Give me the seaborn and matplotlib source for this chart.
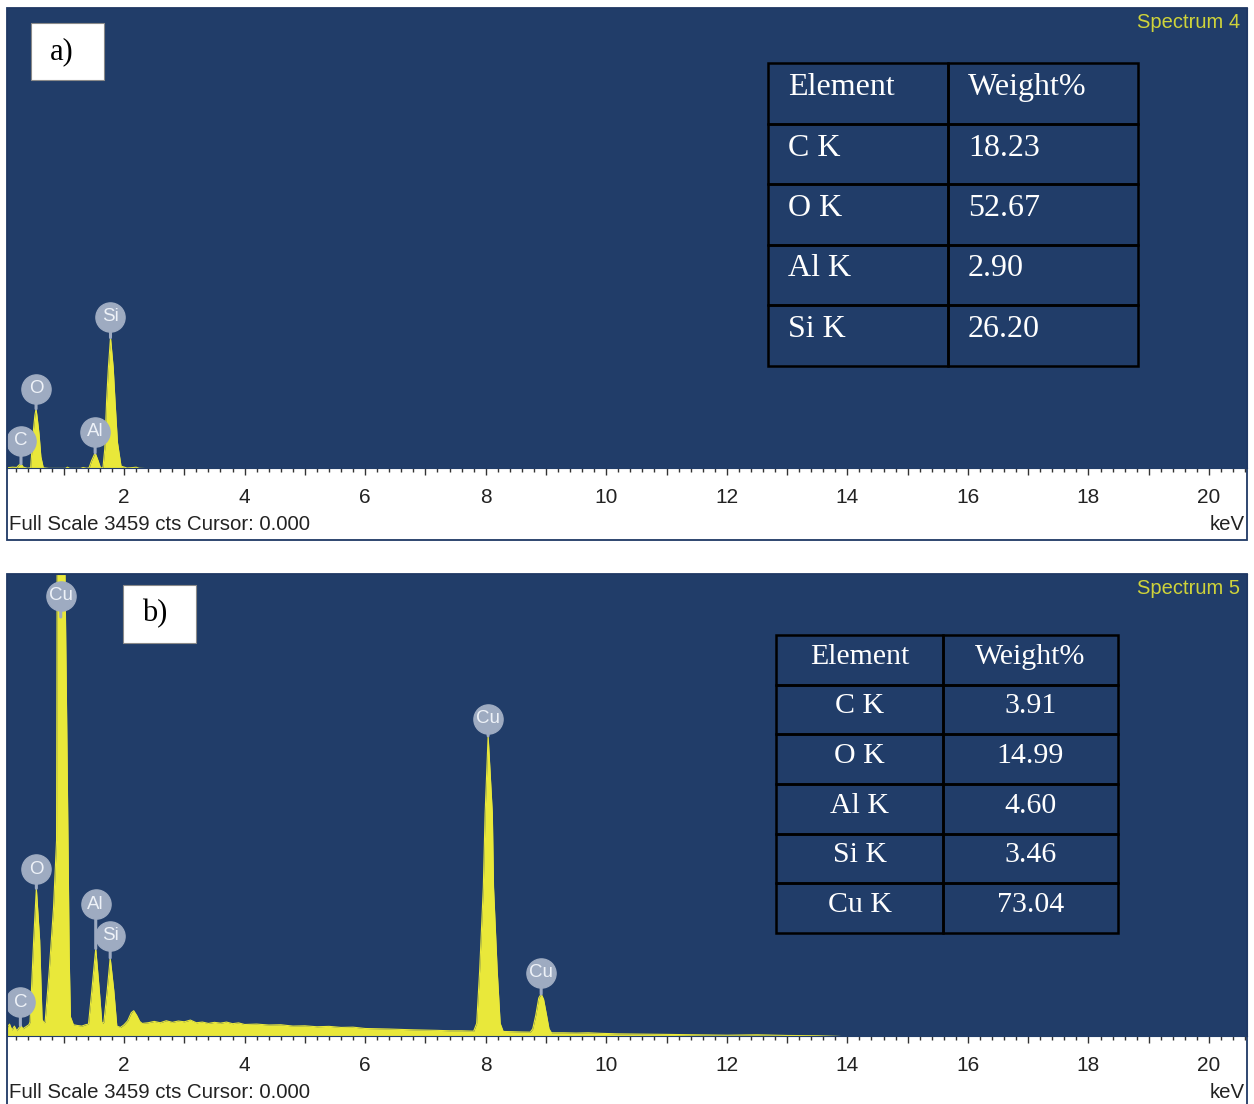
import matplotlib
matplotlib.use("Agg")
import matplotlib.pyplot as plt
import seaborn as sns
from matplotlib.patches import Rectangle
from matplotlib.ticker import MultipleLocator, FuncFormatter
from matplotlib.transforms import offset_copy

# --- Spectrum 4 (panel a): energy (keV) / counts ---
kev_a = [0.06, 0.15, 0.22, 0.25, 0.29, 0.33, 0.40, 0.45, 0.49, 0.52, 0.54, 0.56,
         0.59, 0.62, 0.66, 0.75, 1.03, 1.06, 1.10, 1.28, 1.32, 1.38, 1.42, 1.46,
         1.52, 1.57, 1.61, 1.65, 1.68, 1.71, 1.74, 1.775, 1.82, 1.85, 1.89, 1.95,
         2.05, 2.16, 2.20, 2.25, 2.35, 20.63]
cts_a = [8, 12, 10, 25, 38, 12, 4, 8, 260, 400, 451, 380,
         260, 90, 8, 3, 3, 12, 3, 3, 10, 4, 8, 60,
         120, 60, 6, 10, 150, 510, 760, 985, 760, 510, 200, 20,
         6, 10, 12, 4, 2, 0]

# --- Spectrum 5 (panel b) ---
kev_b = [0.06, 0.10, 0.14, 0.18, 0.22, 0.26, 0.29, 0.32, 0.37, 0.42, 0.44, 0.50,
         0.545, 0.60, 0.64, 0.67, 0.69, 0.755, 0.83, 0.88, 0.89, 0.93, 0.98, 1.02,
         1.05, 1.07, 1.09, 1.11, 1.16, 1.22, 1.30, 1.36, 1.41, 1.465, 1.53, 1.59,
         1.63, 1.645, 1.665, 1.72, 1.77, 1.83, 1.88, 1.94, 2.00, 2.06, 2.12, 2.16,
         2.21, 2.26, 2.30, 2.40, 2.50, 2.60, 2.70, 2.80, 2.90, 3.00, 3.10, 3.20,
         3.30, 3.40, 3.50, 3.60, 3.70, 3.80, 3.90, 4.00, 4.20, 4.40, 4.60, 4.80,
         5.00, 5.20, 5.40, 5.60, 5.80, 6.00, 6.20, 6.40, 6.60, 6.80, 7.00, 7.20,
         7.40, 7.60, 7.80, 7.85, 7.90, 7.96, 7.99, 8.04, 8.11, 8.13, 8.19, 8.24,
         8.29, 8.45, 8.60, 8.74, 8.78, 8.83, 8.88, 8.92, 8.96, 9.01, 9.05, 9.09,
         9.30, 9.50, 9.70, 9.90, 10.2, 10.6, 11.0, 11.5, 12.0, 12.5, 13.0, 13.5,
         13.8, 14.0, 20.63]
cts_b = [70, 95, 50, 80, 45, 70, 85, 60, 75, 90, 110, 720,
         1110, 720, 130, 105, 110, 470, 965, 1470, 3600, 5600, 5800, 3459,
         2300, 1470, 600, 150, 90, 85, 80, 90, 95, 345, 660, 345,
         110, 100, 110, 345, 590, 345, 80, 70, 90, 120, 180, 195,
         160, 115, 100, 105, 115, 105, 120, 108, 118, 112, 125, 105,
         110, 100, 108, 102, 110, 98, 104, 92, 95, 88, 90, 80,
         82, 75, 78, 70, 72, 62, 60, 58, 55, 52, 50, 48,
         45, 45, 42, 100, 500, 1116, 1670, 2250, 1670, 1116, 500, 100,
         40, 38, 36, 35, 60, 160, 290, 320, 280, 160, 60, 30,
         30, 28, 30, 26, 22, 20, 18, 15, 12, 15, 10, 8,
         4, 0, 0]

# element markers (energy, counts at peak top)
labels_a = ["C", "O", "Al", "Si"]
lab_kev_a = [0.29, 0.54, 1.52, 1.775]
lab_cts_a = [38, 451, 120, 985]
lab_off_a = [23, 20, 21, 21]

labels_b = ["C", "O", "Cu", "Al", "Si", "Cu", "Cu"]
lab_kev_b = [0.28, 0.545, 0.95, 1.53, 1.77, 8.04, 8.92]
lab_cts_b = [85, 1110, 5800, 660, 590, 2250, 320]
lab_off_b = [23, 19, -22, 44, 22, 17, 21]

# quantification tables
elements_a = ["C K", "O K", "Al K", "Si K"]
weights_a = [18.23, 52.67, 2.90, 26.20]
elements_b = ["C K", "O K", "Al K", "Si K", "Cu K"]
weights_b = [3.91, 14.99, 4.60, 3.46, 73.04]

W, H = 1254, 1104
BLUE = "#213d69"
YELLOW = "#e9e83a"
BUBBLE = "#9eabc1"
FRAME = "#1f3864"
FULL_SCALE = 3459
KEV_MIN, KEV_MAX = 0.058, 20.63

sns.set_style("white")
plt.rcParams["font.family"] = ["Liberation Sans", "DejaVu Sans"]

fig = plt.figure(figsize=(W / 100, H / 100), dpi=100, facecolor="white")


def fx(x):
    return x / W


def fy(y):
    return 1 - y / H


def draw_panel(top, bottom, strip_bottom, kev, cts, labels, lab_kev, lab_cts,
               lab_off, spectrum):
    ax = fig.add_axes([fx(7), fy(bottom), fx(1247) - fx(7), (bottom - top) / H])
    ax.set_facecolor(BLUE)
    ax.fill_between(kev, cts, 0, color=YELLOW, lw=0)
    sns.lineplot(x=kev, y=cts, ax=ax, color=YELLOW, lw=0.8, estimator=None, sort=False)
    ax.set_xlim(KEV_MIN, KEV_MAX)
    # start a hair above zero so the empty baseline stays blue
    ax.set_ylim(6, FULL_SCALE)
    ax.set_yticks([])
    ax.set_xlabel("")
    ax.set_ylabel("")
    for s in ax.spines.values():
        s.set_color(BLUE)
    ax.xaxis.set_major_locator(MultipleLocator(1))
    ax.xaxis.set_minor_locator(MultipleLocator(0.2))
    ax.xaxis.set_major_formatter(FuncFormatter(
        lambda v, p: f"{int(round(v))}" if round(v) % 2 == 0 and v > 0.5 else ""))
    ax.tick_params(axis="x", which="major", direction="out", length=4.8, width=1,
                   color="#333333", pad=9.5, labelsize=15, labelcolor="#222222",
                   bottom=True)
    ax.tick_params(axis="x", which="minor", direction="out", length=3, width=1,
                   color="#333333", bottom=True)

    # element markers
    for lab, k, c, off in zip(labels, lab_kev, lab_cts, lab_off):
        c = min(c, FULL_SCALE)
        if off > 0:
            s0, s1 = 0, off
        else:
            s0, s1 = off, off - 21
        ax.annotate("", xy=(k, c),
                    xycoords=offset_copy(ax.transData, fig=fig, y=s0, units="dots"),
                    xytext=(0, s1 - s0), textcoords="offset pixels",
                    arrowprops=dict(arrowstyle="-", color=BUBBLE, lw=2.2,
                                    shrinkA=0, shrinkB=0), zorder=4)
        tr = offset_copy(ax.transData, fig=fig, y=off, units="dots")
        ax.plot([k], [c], marker="o", ms=21, color=BUBBLE, mec=BUBBLE,
                transform=tr, zorder=5)
        ax.text(k, c, lab, transform=tr, ha="center", va="center", fontsize=13.5,
                color="#eef2f8", zorder=6, clip_on=False)

    # frame round plot + white strip
    fig.patches.append(Rectangle((fx(7), fy(strip_bottom)), fx(1247) - fx(7),
                                 (strip_bottom - top) / H, transform=fig.transFigure,
                                 fill=False, edgecolor=FRAME, lw=1.3, zorder=10))
    fig.text(fx(9), fy(bottom + 56), "Full Scale 3459 cts Cursor: 0.000",
             ha="left", va="center", fontsize=14.7, color="#222222")
    fig.text(fx(1245), fy(bottom + 56), "keV", ha="right", va="center",
             fontsize=14.7, color="#222222")
    fig.text(fx(1240), fy(top + 14), spectrum, ha="right", va="center",
             fontsize=14.5, color="#cfd33a")
    return ax


def draw_table(x_cols, y_top, row_h, elements, weights, size, centred, base_off, pad):
    n = len(elements) + 1
    rows = [["Element", "Weight%"]] + [[e, f"{w:.2f}"] for e, w in zip(elements, weights)]
    for i in range(n):
        for j in range(2):
            x0, x1 = x_cols[j], x_cols[j + 1]
            y0 = y_top + i * row_h
            fig.patches.append(Rectangle((fx(x0), fy(y0 + row_h)), (x1 - x0) / W,
                                         row_h / H, transform=fig.transFigure,
                                         fill=False, edgecolor="black", lw=1.8,
                                         zorder=8))
            if centred:
                tx, ha = (x0 + x1) / 2, "center"
            else:
                tx, ha = x0 + pad, "left"
            fig.text(fx(tx), fy(y0 + base_off), rows[i][j], ha=ha, va="baseline",
                     fontsize=size, color="white", family="Liberation Serif",
                     zorder=9)


def tag(x0, y0, x1, y1, text, tx):
    fig.patches.append(Rectangle((fx(x0), fy(y1)), (x1 - x0) / W, (y1 - y0) / H,
                                 transform=fig.transFigure, facecolor="white",
                                 edgecolor="#8a8a8a", lw=0.8, zorder=8))
    fig.text(fx(tx), fy((y0 + y1) / 2), text, ha="center", va="center",
             fontsize=22, color="black", family="Liberation Serif", zorder=9)


draw_panel(8, 468, 540, kev_a, cts_a, labels_a, lab_kev_a, lab_cts_a, lab_off_a,
           "Spectrum 4")
draw_panel(574, 1036, 1108, kev_b, cts_b, labels_b, lab_kev_b, lab_cts_b, lab_off_b,
           "Spectrum 5")

draw_table([768, 948, 1138], 63, 60.5, elements_a, weights_a, 23, False, 32, 20)
draw_table([776, 943, 1118], 635, 49.67, elements_b, weights_b, 21.5, True, 28.5, 0)

tag(31, 23, 104, 80, "a)", 62)
tag(123, 585, 196, 643, "b)", 155)

fig.savefig("out.png", dpi=100, facecolor="white")
